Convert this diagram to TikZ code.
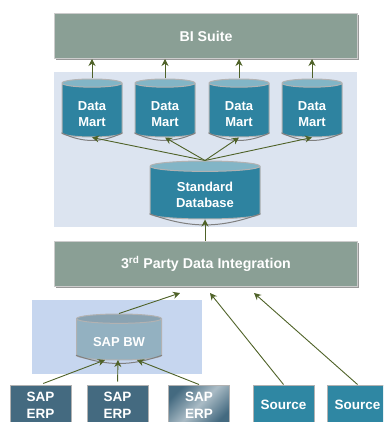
\documentclass[tikz,border=0pt]{standalone}
\usepackage{fontspec}
\setmainfont{Liberation Sans}
\usepackage{tikz}
\usetikzlibrary{arrows.meta,shapes.geometric,positioning,shadows}
\definecolor{bigreen}{RGB}{138,159,149}
\definecolor{paleblue}{RGB}{220,228,240}
\definecolor{sapblue}{RGB}{198,214,239}
\definecolor{dbteal}{RGB}{46,131,160}
\definecolor{dbtop}{RGB}{130,181,198}
\definecolor{bwbody}{RGB}{147,177,193}
\definecolor{bwtop}{RGB}{138,163,178}
\definecolor{erpblue}{RGB}{68,106,128}
\definecolor{srcteal}{RGB}{47,135,163}
\definecolor{arrowgreen}{RGB}{79,98,40}
\tikzset{
  arrow/.style={line width=0.9pt,-{Stealth[length=7pt,width=7pt]},color=arrowgreen},
  layerbox/.style={draw=black!20,line width=1pt,fill=bigreen,text=white,font=\fontsize{14.2}{16}\selectfont\bfseries,drop shadow={shadow xshift=1pt,shadow yshift=-1.2pt,fill=black!40,opacity=1}},
  dbase/.style={cylinder,shape border rotate=90,draw=black!30,line width=1pt,cylinder uses custom fill,cylinder body fill=dbteal,cylinder end fill=dbtop,text=white,align=center,anchor=shape center,inner sep=0pt,font=\fontsize{13}{16}\selectfont\bfseries},
  dbedge/.style={draw=black!50,line width=1pt},
  sysbox/.style={draw=black!30,line width=1pt,text=white,align=center,inner sep=0pt,font=\fontsize{13.5}{17}\selectfont\bfseries}
}
\begin{document}
\begin{tikzpicture}[x=1pt,y=-1pt]
\clip (0,0) rectangle (383,422);
% Background panels
\fill[paleblue] (54,72) rectangle (357,227);
\fill[sapblue] (32,300) rectangle (202,374);

% Layers
\node[layerbox, minimum width=303pt, minimum height=45pt] (bisuite) at (206,36) {BI Suite};
\node[layerbox, minimum width=303pt, minimum height=45pt] (thirdparty) at (206,264) {3\textsuperscript{rd} Party Data Integration};

% Data marts
\node[dbase, minimum width=60pt, minimum height=58pt, aspect=0.29] (mart1) at (92,108) {\rule{0pt}{16pt}Data\\Mart};
\node[dbase, minimum width=60pt, minimum height=58pt, aspect=0.29] (mart2) at (165,108) {\rule{0pt}{16pt}Data\\Mart};
\node[dbase, minimum width=60pt, minimum height=58pt, aspect=0.29] (mart3) at (239,108) {\rule{0pt}{16pt}Data\\Mart};
\node[dbase, minimum width=60pt, minimum height=58pt, aspect=0.29] (mart4) at (312,108) {\rule{0pt}{16pt}Data\\Mart};

% Standard database
\node[dbase, minimum width=110pt, minimum height=58pt, aspect=0.18] (stdb) at (205,190) {\rule{0pt}{12.5pt}Standard\\Database};

% SAP BW
\node[dbase, minimum width=85pt, minimum height=46pt, aspect=0.18, cylinder body fill=bwbody, cylinder end fill=bwtop] (sapbw) at (119,337) {\rule{0pt}{14pt}SAP BW};

% Darker lower rims
\foreach \db/\bend in {mart1/25,mart2/25,mart3/25,mart4/25,stdb/20,sapbw/19}
  \draw[dbedge] (\db.before bottom) to[bend left=\bend] (\db.after bottom);

% Source systems
\node[sysbox, fill=erpblue, minimum width=61pt, minimum height=40pt] (erp1) at (40.5,405) {SAP\\ERP};
\node[sysbox, fill=erpblue, minimum width=61pt, minimum height=40pt] (erp2) at (117.5,405) {SAP\\ERP};
\node[sysbox, left color=erpblue, right color=erpblue, middle color=erpblue!45, shading angle=45, minimum width=61pt, minimum height=40pt] (erp3) at (199,405) {SAP\\ERP};
\node[sysbox, fill=srcteal, minimum width=61pt, minimum height=40pt] (src1) at (283.5,405) {Source};
\node[sysbox, fill=srcteal, minimum width=61pt, minimum height=40pt] (src2) at (357.5,405) {Source};

% Free arrow ends
\coordinate (bwout) at (180,293);
\coordinate (src1in) at (210,293);
\coordinate (src2in) at (254,293);
\coordinate (bwin1) at (105,360);
\coordinate (bwin2) at (118,360);
\coordinate (bwin3) at (137,360);

% Connections
\draw[arrow] (mart1.top) -- (mart1.top |- bisuite.south);
\draw[arrow] (mart2.top) -- (mart2.top |- bisuite.south);
\draw[arrow] (mart3.top) -- (mart3.top |- bisuite.south);
\draw[arrow] (mart4.top) -- (mart4.top |- bisuite.south);

\draw[arrow] (stdb.top) -- (mart1.bottom);
\draw[arrow] (stdb.top) -- (mart2.bottom);
\draw[arrow] (stdb.top) -- (mart3.bottom);
\draw[arrow] (stdb.top) -- (mart4.bottom);

\draw[arrow] (thirdparty.north -| stdb.bottom) -- (stdb.bottom);

\draw[arrow] (sapbw.top) -- (bwout);
\draw[arrow, shorten <=3pt] (erp1.north) -- (bwin1);
\draw[arrow, shorten <=3pt] (erp2.north) -- (bwin2);
\draw[arrow] (erp3.north) -- (bwin3);

\draw[arrow] (src1.north) -- (src1in);
\draw[arrow] (src2.north) -- (src2in);
\end{tikzpicture}
\end{document}
